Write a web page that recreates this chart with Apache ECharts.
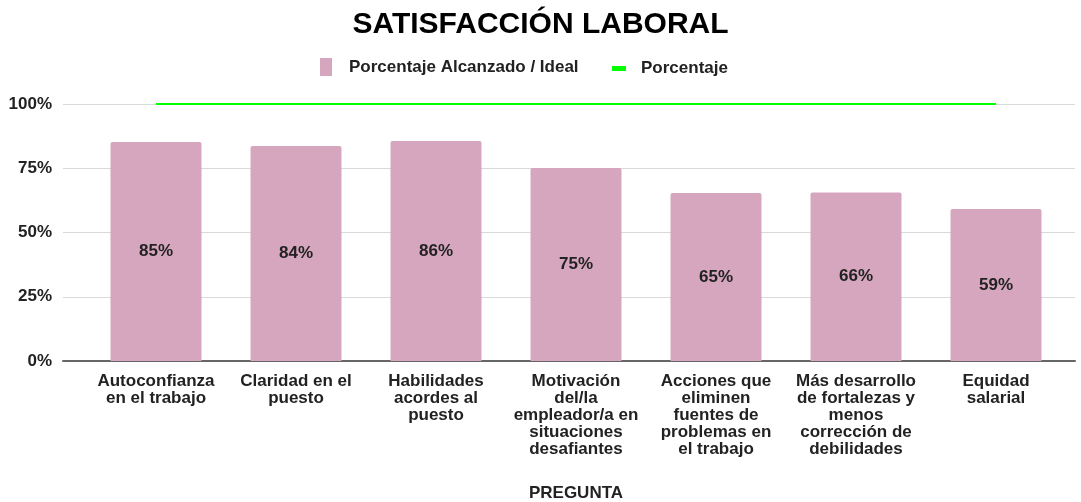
<!DOCTYPE html>
<html><head><meta charset="utf-8">
<script src="https://cdn.jsdelivr.net/npm/echarts@6/dist/echarts.min.js"></script>
<style>html,body{margin:0;padding:0;background:#fff}#c{width:1081px;height:502px}</style>
</head><body><div id="c"></div>
<script>
const categories = [
  'Autoconfianza\nen el trabajo',
  'Claridad en el\npuesto',
  'Habilidades\nacordes al\npuesto',
  'Motivación\ndel/la\nempleador/a en\nsituaciones\ndesafiantes',
  'Acciones que\neliminen\nfuentes de\nproblemas en\nel trabajo',
  'Más desarrollo\nde fortalezas y\nmenos\ncorrección de\ndebilidades',
  'Equidad\nsalarial'
];
const alcanzado = [85.2, 83.7, 85.6, 75.1, 65.4, 65.6, 59.1];
const ideal = [100, 100, 100, 100, 100, 100, 100];
const yTicks = [0, 25, 50, 75, 100];

const font = 'Liberation Sans, Arial, sans-serif';
const chart = echarts.init(document.getElementById('c'), null, {renderer: 'canvas'});
chart.setOption({
  animation: false,
  backgroundColor: '#fff',
  title: {
    text: 'SATISFACCIÓN LABORAL', left: 'center', top: 5,
    textStyle: {fontFamily: font, fontSize: 30, fontWeight: 'bold', color: '#000'}
  },
  legend: [
    {left: 320, top: 58, padding: 0, itemWidth: 12, itemHeight: 18,
     textStyle: {fontFamily: font, fontSize: 17, fontWeight: 'bold', color: '#222', padding: [0, 0, 0, 12]},
     data: [{name: 'Porcentaje Alcanzado / Ideal', icon: 'rect', itemStyle: {color: '#d5a6bd'}}]},
    {left: 612, top: 60, padding: 0, itemWidth: 14, itemHeight: 5,
     textStyle: {fontFamily: font, fontSize: 17, fontWeight: 'bold', color: '#222', padding: [0, 0, 0, 10]},
     data: [{name: 'Porcentaje', icon: 'rect', itemStyle: {color: '#00ff00'}}]}
  ],
  grid: [
    {left: 63, right: 6, top: 104, bottom: 141, outerBoundsMode: 'none', containLabel: false},
    {left: 86, right: 15, top: 104, bottom: 141, outerBoundsMode: 'none', containLabel: false}
  ],
  xAxis: [
    {gridIndex: 0, type: 'value', min: 0, max: 1, show: true,
     axisLine: {show: true, lineStyle: {color: '#666', width: 2}},
     axisTick: {show: false}, axisLabel: {show: false}, splitLine: {show: false}},
    {gridIndex: 1, type: 'category', data: categories, boundaryGap: true,
     axisLine: {show: false}, axisTick: {show: false},
     axisLabel: {interval: 0, margin: 12, fontFamily: font, fontSize: 17, fontWeight: 'bold', color: '#222', lineHeight: 17, align: 'center'},
     name: 'PREGUNTA', nameLocation: 'middle', nameGap: 124,
     nameTextStyle: {fontFamily: font, fontSize: 17, fontWeight: 'bold', color: '#222'}}
  ],
  yAxis: [
    {gridIndex: 0, type: 'value', min: 0, max: 100, interval: 25,
     axisLine: {show: false}, axisTick: {show: false},
     axisLabel: {margin: 11, fontFamily: font, fontSize: 17, fontWeight: 'bold', color: '#222',
       formatter: v => yTicks.includes(v) ? v + '%' : ''},
     splitLine: {lineStyle: {color: '#d9d9d9', width: 1}}},
    {gridIndex: 1, type: 'value', min: 0, max: 100, interval: 25, show: false, splitLine: {show: false}}
  ],
  series: [
    {name: 'Porcentaje Alcanzado / Ideal', type: 'bar', xAxisIndex: 1, yAxisIndex: 1,
     data: alcanzado, barWidth: '65%',
     itemStyle: {color: '#d5a6bd', borderRadius: [2, 2, 0, 0]},
     label: {show: true, position: 'inside', fontFamily: font, fontSize: 17, fontWeight: 'bold', color: '#222',
       formatter: p => Math.round(p.value) + '%'}},
    {name: 'Porcentaje', type: 'line', xAxisIndex: 1, yAxisIndex: 1,
     data: ideal, symbol: 'none', lineStyle: {color: '#00ff00', width: 2}, itemStyle: {color: '#00ff00'}, z: 5}
  ]
});
</script></body></html>
